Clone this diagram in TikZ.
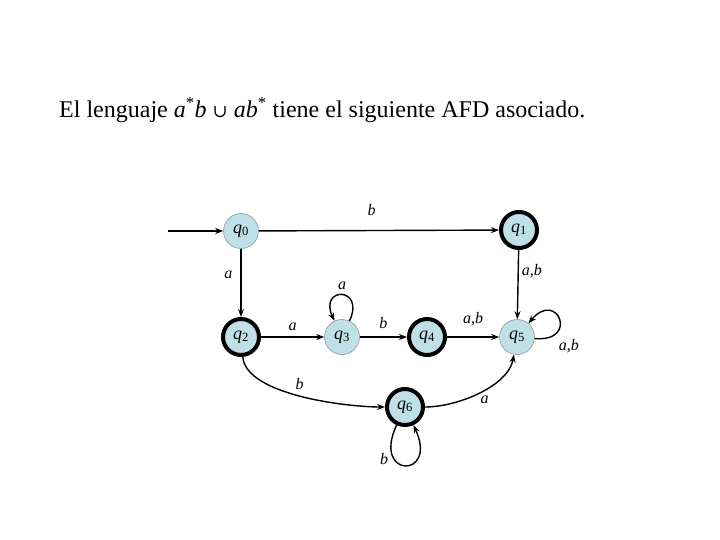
\documentclass[tikz,border=0pt]{standalone}
\usepackage{fontspec}
\setmainfont{Liberation Serif}
\newfontfamily\symfont{DejaVu Serif}
\usetikzlibrary{arrows.meta}
\definecolor{statefill}{HTML}{BEE0E6}
\definecolor{rim}{HTML}{8A9A9C}
\newcommand{\qs}[1]{\textit{q}\textsubscript{#1}}
\tikzset{
  state/.style={circle, draw=rim, fill=statefill, line width=0.6pt, minimum size=35pt,
                inner sep=0pt, font=\fontsize{18}{18}\selectfont},
  accept/.style={state, draw=black, line width=4pt, minimum size=36pt},
  trans/.style={-{Stealth[length=8pt,width=6pt]}, line width=1.4pt},
  lbl/.style={font=\fontsize{16}{16}\selectfont\itshape, inner sep=2pt},
}

\begin{document}
\begin{tikzpicture}[x=1pt, y=-1pt]
\useasboundingbox (0,0) rectangle (720,540);
% titulo
\node[anchor=base west, inner sep=0pt, font=\fontsize{24}{24}\selectfont] (title) at (59,118)
 {El lenguaje \textit{a}\textsuperscript{*}\textit{b} {\symfont\fontsize{18}{18}\selectfont ∪} \textit{ab}\textsuperscript{*} tiene el siguiente AFD asociado.};
% estados
\node[state]  (q0) at (241,231) {\qs{0}};
\node[accept] (q1) at (519,230) {\qs{1}};
\node[accept] (q2) at (241,337) {\qs{2}};
\node[state]  (q3) at (342,337) {\qs{3}};
\node[accept] (q4) at (427,337) {\qs{4}};
\node[state]  (q5) at (517,337) {\qs{5}};
\node[accept] (q6) at (405,407) {\qs{6}};
\coordinate (start) at (168,231);
% transiciones
\draw[trans] (start) -- (q0);
\draw[trans] (q0) -- node[lbl, above=12pt, pos=0.47] {b} (q1);
\draw[trans] (q0) -- node[lbl, left=6pt, pos=0.38] {a} (q2);
\draw[trans] (q1) -- node[lbl, right=1pt, pos=0.3] {a,b} (q5);
\draw[trans] (q2) -- node[lbl, above=4pt] {a} (q3);
\draw[trans] (q3) to[out=65, in=115, looseness=6.5] node[lbl, above=3pt] {a} (q3);
\draw[trans] (q3) -- node[lbl, above=6pt] {b} (q4);
\draw[trans] (q4) -- node[lbl, above=8pt] {a,b} (q5);
\draw[trans] (q5) to[out=-5, in=50, looseness=7] node[lbl, below right=2pt, pos=0.2] {a,b} (q5);
\draw[trans] (q2) to[out=-85, in=180, looseness=0.65] node[lbl, above right=1pt, pos=0.45] {b} (q6);
\draw[trans] (q6) to[out=0, in=-100, looseness=0.8] node[lbl, below=3pt, pos=0.55] {a} (q5);
\draw[trans] (q6) to[out=-115, in=-65, looseness=9] node[lbl, left=3pt, pos=0.3] {b} (q6);
\end{tikzpicture}
\end{document}
